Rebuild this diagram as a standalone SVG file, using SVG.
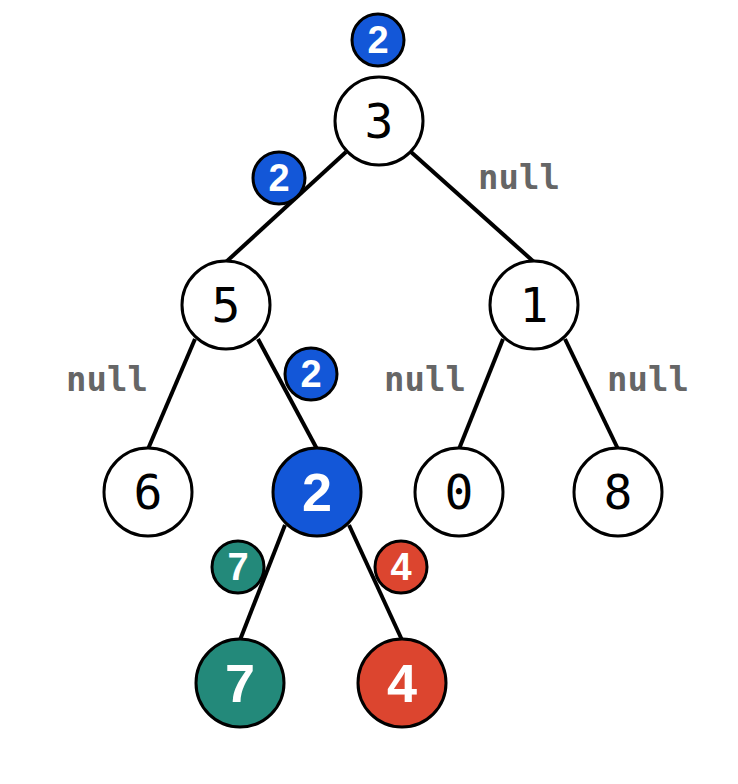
<svg xmlns="http://www.w3.org/2000/svg" width="738" height="784" viewBox="0 0 738 784">
  <style>
    .edge { stroke: #000; stroke-width: 4; fill: none; stroke-linecap: butt; }
    .node { stroke: #000; stroke-width: 3; }
    .plain { fill: #fff; }
    .blue { fill: #1357d8; }
    .green { fill: #23897a; }
    .red { fill: #dc452f; }
    .val { font-family: "DejaVu Sans Mono", "Liberation Mono", monospace; font-size: 48px; text-anchor: middle; fill: #000; }
    .hi { font-family: "Liberation Sans", "DejaVu Sans", sans-serif; font-weight: bold; font-size: 54px; text-anchor: middle; fill: #fff; }
    .badge { font-family: "Liberation Sans", "DejaVu Sans", sans-serif; font-weight: bold; font-size: 38px; text-anchor: middle; fill: #fff; }
    .null { font-family: "DejaVu Sans Mono", "Liberation Mono", monospace; font-weight: bold; font-size: 34px; text-anchor: middle; fill: #666; }
  </style>

  <!-- connectors -->
  <g id="edges">
    <line class="edge" x1="346" y1="152" x2="226" y2="262"/>
    <line class="edge" x1="411" y1="152" x2="534" y2="262"/>
    <line class="edge" x1="195" y1="339" x2="148" y2="449"/>
    <line class="edge" x1="258" y1="339" x2="317" y2="449"/>
    <line class="edge" x1="503" y1="339" x2="459" y2="449"/>
    <line class="edge" x1="565" y1="339" x2="618" y2="449"/>
    <line class="edge" x1="285" y1="525" x2="240" y2="640"/>
    <line class="edge" x1="349" y1="525" x2="402" y2="640"/>
  </g>

  <!-- tree nodes -->
  <g id="n3"><circle class="node plain" cx="379" cy="121" r="44"/><text class="val" x="379" y="138">3</text></g>
  <g id="n5"><circle class="node plain" cx="226" cy="305" r="44"/><text class="val" x="226" y="322">5</text></g>
  <g id="n1"><circle class="node plain" cx="534" cy="305" r="44"/><text class="val" x="534" y="322">1</text></g>
  <g id="n6"><circle class="node plain" cx="148" cy="492" r="44"/><text class="val" x="148" y="509">6</text></g>
  <g id="n2"><circle class="node blue" cx="317" cy="492" r="44"/><text class="hi" x="317" y="511">2</text></g>
  <g id="n0"><circle class="node plain" cx="459" cy="492" r="44"/><text class="val" x="459" y="509">0</text></g>
  <g id="n8"><circle class="node plain" cx="618" cy="492" r="44"/><text class="val" x="618" y="509">8</text></g>
  <g id="n7"><circle class="node green" cx="240" cy="683" r="44"/><text class="hi" x="240" y="702">7</text></g>
  <g id="n4"><circle class="node red" cx="402" cy="683" r="44"/><text class="hi" x="402" y="702">4</text></g>

  <!-- returned-value badges -->
  <g id="b-root"><circle class="node blue" cx="378" cy="40" r="26"/><text class="badge" x="378" y="53">2</text></g>
  <g id="b-left"><circle class="node blue" cx="279" cy="178" r="26"/><text class="badge" x="279" y="191">2</text></g>
  <g id="b-5r"><circle class="node blue" cx="311" cy="374" r="26"/><text class="badge" x="311" y="387">2</text></g>
  <g id="b-7"><circle class="node green" cx="238" cy="567" r="26"/><text class="badge" x="238" y="580">7</text></g>
  <g id="b-4"><circle class="node red" cx="401" cy="567" r="26"/><text class="badge" x="401" y="580">4</text></g>

  <!-- null labels -->
  <g id="null-labels">
    <text class="null" x="519" y="189">null</text>
    <text class="null" x="107" y="391">null</text>
    <text class="null" x="425" y="391">null</text>
    <text class="null" x="648" y="391">null</text>
  </g>
</svg>
